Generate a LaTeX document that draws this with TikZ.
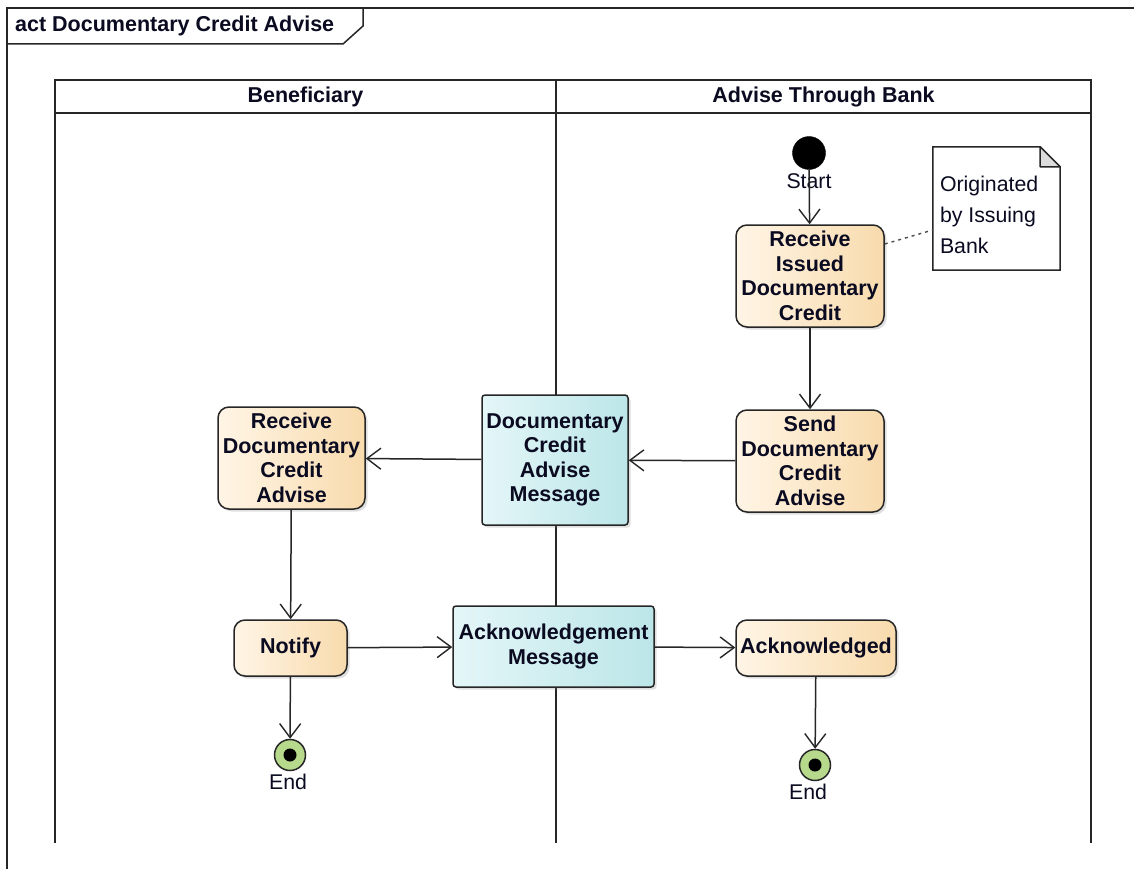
\documentclass[tikz,border=0pt]{standalone}
\usepackage{fontspec}
\setmainfont{Liberation Sans}
\usetikzlibrary{arrows.meta,shadows}
\definecolor{actL}{HTML}{FFF5E6}
\definecolor{actR}{HTML}{F8DBAD}
\definecolor{msgL}{HTML}{E4F6F8}
\definecolor{msgR}{HTML}{BCE6E8}
\definecolor{endG}{HTML}{B6D98C}
\definecolor{txt}{HTML}{0A0A20}
\definecolor{foldG}{HTML}{DCDCDC}
\tikzset{
  base/.style={line width=1.5pt, draw=black!85},
  actbox/.style={base, rounded corners=11pt, left color=actL, right color=actR,
    align=center, font=\fontsize{21.5}{24.5}\selectfont\bfseries, text=txt, inner sep=0pt,
    drop shadow={shadow xshift=2.5pt, shadow yshift=-2.5pt, opacity=0.25}},
  msgbox/.style={base, rounded corners=3pt, left color=msgL, right color=msgR,
    align=center, font=\fontsize{21.5}{24.5}\selectfont\bfseries, text=txt, inner sep=0pt,
    drop shadow={shadow xshift=2.5pt, shadow yshift=-2.5pt, opacity=0.25}},
  flow/.style={line width=1.5pt, draw=black!85, -{Straight Barb[length=14pt,width=21pt,line width=1.4pt]}},
  plain/.style={font=\fontsize{21.3}{24}\selectfont, text=txt},
  hdr/.style={font=\fontsize{21.5}{24}\selectfont\bfseries, text=txt},
  startdot/.style={circle, fill=black, draw=black, minimum size=33pt, inner sep=0pt},
  enddot/.style={circle, fill=endG, draw=black!85, line width=1.5pt, minimum size=31pt, inner sep=0pt,
    path picture={\fill[black] (path picture bounding box.center) circle (6.5pt);}},
}
\begin{document}
\begin{tikzpicture}[x=1pt,y=-1pt]
\useasboundingbox[fill=white] (0,0) rectangle (1134,869);

% frame
\draw[base] (1134,8) -- (7,8) -- (7,869);
\draw[base] (7,44) -- (343,44) -- (363,26) -- (363,8);
\node[hdr, anchor=west, inner sep=0pt] (title) at (15,26) {act Documentary Credit Advise};

% swimlanes
\draw[base] (55,843) -- (55,80) -- (1091,80) -- (1091,843);
\draw[base] (55,113) -- (1091,113);
\draw[base] (556,80) -- (556,843);
\node[hdr] (lane1) at (305.5,97) {Beneficiary};
\node[hdr] (lane2) at (823.5,97) {Advise Through Bank};

% nodes
\node[startdot] (start) at (809,153) {};
\node[plain] (startlbl) at (809,181) {Start};

\node[actbox, minimum width=148pt, minimum height=102pt] (recv) at (810,276)
  {Receive\\Issued\\Documentary\\Credit};
\node[actbox, minimum width=148pt, minimum height=102pt] (send) at (810,461)
  {Send\\Documentary\\Credit\\Advise};
\node[msgbox, minimum width=146pt, minimum height=130pt] (msg) at (555,460)
  {Documentary\\Credit\\Advise\\Message};
\node[actbox, minimum width=147pt, minimum height=102pt] (recvadv) at (291.5,458)
  {Receive\\Documentary\\Credit\\Advise};
\node[actbox, minimum width=113pt, minimum height=56pt] (notify) at (290.5,648) {Notify};
\node[msgbox, minimum width=201pt, minimum height=81pt] (ackmsg) at (553.5,646.5)
  {Acknowledgement\\Message};
\node[actbox, minimum width=160pt, minimum height=56pt] (acked) at (816,648) {Acknowledged};

\node[enddot] (end1) at (290,755) {};
\node[plain] (end1lbl) at (288,782) {End};
\node[enddot] (end2) at (815,765) {};
\node[plain] (end2lbl) at (808,792) {End};

% note
\node[minimum width=127pt, minimum height=123pt, inner sep=0pt] (note) at (996.5,208.5) {};
\draw[base, fill=white] (note.north west) -- ([xshift=-20pt]note.north east)
  -- ([yshift=-20pt]note.north east) -- (note.south east) -- (note.south west) -- cycle;
\draw[base, fill=foldG, line join=round] ([xshift=-20pt]note.north east)
  -- ([xshift=-20pt,yshift=-20pt]note.north east) -- ([yshift=-20pt]note.north east) -- cycle;
\node[plain, align=left, anchor=west, font=\fontsize{21.3}{31}\selectfont, inner sep=0pt] (notetext)
  at ([xshift=7pt,yshift=-6.5pt]note.west) {Originated\\by Issuing\\Bank};
\draw[line width=1.4pt, draw=black!70, dash pattern=on 3pt off 4pt]
  ([yshift=32pt]recv.east) -- ([yshift=-21.5pt]note.west);

% flows
\draw[flow] (start) -- (recv);
\draw[flow] (recv) -- (send);
\draw[flow] (send) -- (msg);
\draw[flow] (msg) -- (recvadv);
\draw[flow] (recvadv) -- (notify);
\draw[flow] (notify) -- (end1);
\draw[flow] (notify) -- (ackmsg);
\draw[flow] (ackmsg) -- (acked);
\draw[flow] (acked) -- (end2);
\end{tikzpicture}
\end{document}
